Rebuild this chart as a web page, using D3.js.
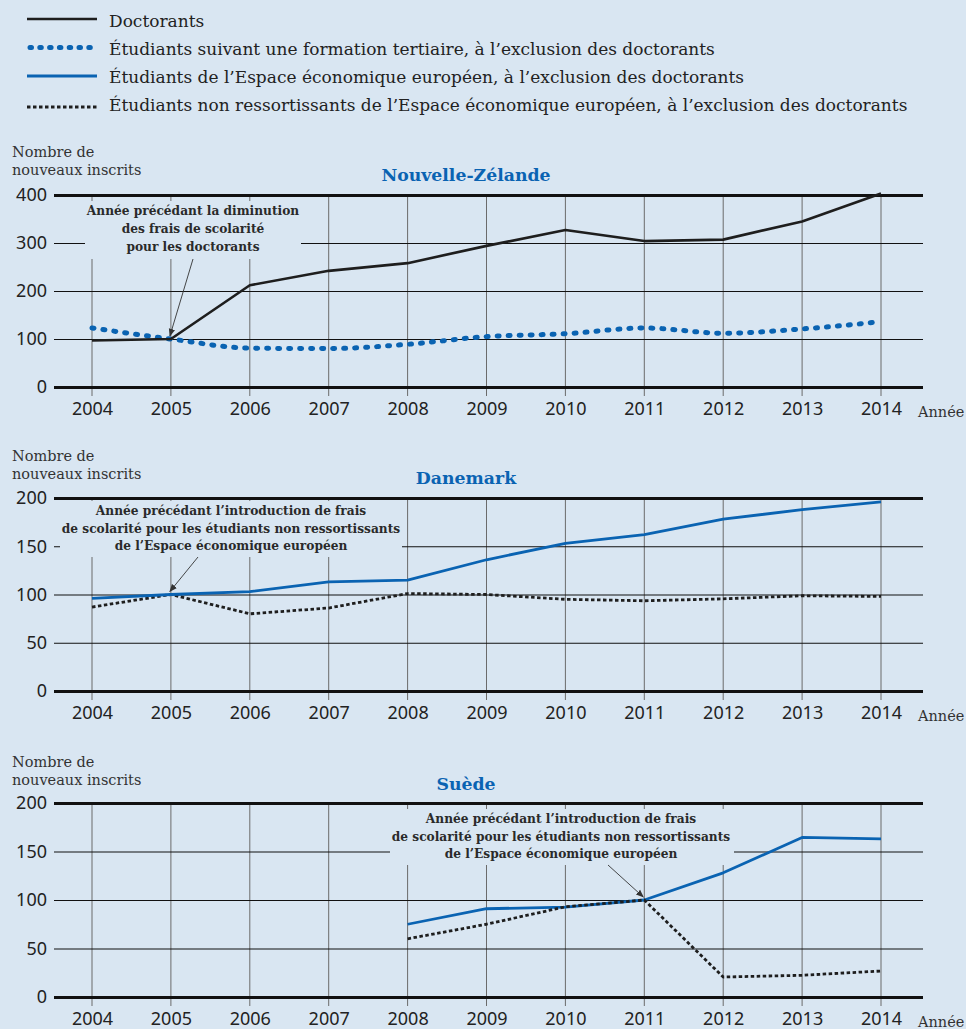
<!DOCTYPE html>
<html lang="fr">
<head>
<meta charset="utf-8">
<script src="https://cdn.jsdelivr.net/npm/d3@7"></script>
<style>
  html, body { margin: 0; padding: 0; background: #d9e6f2; }
  svg { display: block; }
  .serif { font-family: "DejaVu Serif", "Liberation Serif", serif; }
  .bserif { font-family: "DejaVu Serif", "Liberation Serif", serif; font-weight: bold; }
  .sans { font-family: "Noto Sans", "Open Sans", sans-serif; }
</style>
</head>
<body>
<svg id="chart" width="966" height="1029"></svg>
<script>
// Years on the horizontal axis
const years = [2004, 2005, 2006, 2007, 2008, 2009, 2010, 2011, 2012, 2013, 2014];

// Nouvelle-Zélande
const nzDoctorants = [97, 100, 212, 242, 258, 294, 327, 304, 307, 345, 403];
const nzTertiaire  = [123, 100, 81, 80, 89, 105, 111, 123, 112, 121, 136];

// Danemark
const dkEEE    = [96, 100, 103, 113, 115, 136, 153, 162, 178, 188, 196];
const dkNonEEE = [87, 100, 80, 86, 101, 100, 95, 93.5, 95.5, 98.7, 98];

// Suède (données à partir de 2008)
const seEEE    = [null, null, null, null, 75, 91, 92.6, 100, 128, 164.5, 163];
const seNonEEE = [null, null, null, null, 60, 75, 93, 100, 20.6, 22.4, 26.8];

// Axis ticks
const nzTicks = [0, 100, 200, 300, 400];
const dkTicks = [0, 50, 100, 150, 200];
const seTicks = [0, 50, 100, 150, 200];

// Legend entries
const legendLabels = [
  "Doctorants",
  "Étudiants suivant une formation tertiaire, à l’exclusion des doctorants",
  "Étudiants de l’Espace économique européen, à l’exclusion des doctorants",
  "Étudiants non ressortissants de l’Espace économique européen, à l’exclusion des doctorants"
];

const annoteBaisse = ["Année précédant la diminution", "des frais de scolarité", "pour les doctorants"];
const annoteFrais  = ["Année précédant l’introduction de frais",
                      "de scolarité pour les étudiants non ressortissants",
                      "de l’Espace économique européen"];

const BG = "#d9e6f2";
const BLUE = "#0a63b2";
const INK = "#222";

// Line styles per series kind
const styles = {
  doct:    { stroke: "#1e1e1e", width: 2.6, dash: null, cap: "butt", curve: d3.curveLinear },
  tert:    { stroke: BLUE, width: 5, dash: "2 9", cap: "round", curve: d3.curveMonotoneX },
  eee:     { stroke: BLUE, width: 2.8, dash: null, cap: "butt", curve: d3.curveLinear },
  noneee:  { stroke: "#1e1e1e", width: 2.8, dash: "3.5 2.5", cap: "butt", curve: d3.curveLinear }
};

const svg = d3.select("#chart");

svg.append("defs").append("marker")
  .attr("id", "arrow")
  .attr("viewBox", "0 0 10 10")
  .attr("refX", 9).attr("refY", 5)
  .attr("markerWidth", 8).attr("markerHeight", 8)
  .attr("markerUnits", "userSpaceOnUse")
  .attr("orient", "auto")
  .append("path").attr("d", "M0,1 L10,5 L0,9 Z").attr("fill", "#333");

// ---- Legend ----
const legendKinds = ["doct", "tert", "eee", "noneee"];
const legendLineY = [19, 47.5, 76, 107];
const legendTextY = [27, 55, 83, 111];
legendKinds.forEach((k, i) => {
  const s = styles[k];
  svg.append("line")
    .attr("x1", k === "tert" ? 30 : 27).attr("x2", k === "tert" ? 96 : 97)
    .attr("y1", legendLineY[i]).attr("y2", legendLineY[i])
    .attr("stroke", s.stroke).attr("stroke-width", k === "tert" ? 5 : s.width)
    .attr("stroke-dasharray", k === "tert" ? "1.5 8.3" : s.dash)
    .attr("stroke-linecap", s.cap);
  svg.append("text").attr("class", "serif")
    .attr("x", 109).attr("y", legendTextY[i])
    .attr("font-size", 17).attr("fill", INK)
    .text(legendLabels[i]);
});

// ---- Panels ----
const x = d3.scaleLinear().domain([2004, 2014]).range([92, 881]);
const gridX0 = 54, gridX1 = 923;

const panels = [
  {
    title: "Nouvelle-Zélande", titleY: 181, unitY: [157, 175],
    max: 400, top: 195, bottom: 387, ticks: nzTicks,
    series: [["tert", nzTertiaire], ["doct", nzDoctorants]],
    note: { lines: annoteBaisse, box: [85, 201, 301, 259], cx: 193, y0: 215, step: 18,
            arrow: [193, 259], target: 2005, targetValue: nzDoctorants[1] }
  },
  {
    title: "Danemark", titleY: 484, unitY: [461, 479],
    max: 200, top: 498, bottom: 691, ticks: dkTicks,
    series: [["noneee", dkNonEEE], ["eee", dkEEE]],
    note: { lines: annoteFrais, box: [60, 501, 402, 557], cx: 231, y0: 515, step: 17.5,
            arrow: [198, 557], target: 2005, targetValue: dkEEE[1] }
  },
  {
    title: "Suède", titleY: 790, unitY: [767, 785],
    max: 200, top: 803, bottom: 997, ticks: seTicks,
    series: [["eee", seEEE], ["noneee", seNonEEE]],
    note: { lines: annoteFrais, box: [390, 809, 734, 865], cx: 561, y0: 823, step: 17.5,
            arrow: [608, 865], target: 2011, targetValue: seEEE[7] }
  }
];

panels.forEach(p => {
  const g = svg.append("g");
  const y = d3.scaleLinear().domain([0, p.max]).range([p.bottom, p.top]);

  // Unit label
  g.append("text").attr("class", "serif").attr("x", 12).attr("y", p.unitY[0])
    .attr("font-size", 14.5).attr("fill", "#333").text("Nombre de");
  g.append("text").attr("class", "serif").attr("x", 12).attr("y", p.unitY[1])
    .attr("font-size", 14.5).attr("fill", "#333").text("nouveaux inscrits");

  // Title
  g.append("text").attr("class", "bserif").attr("x", 466).attr("y", p.titleY)
    .attr("text-anchor", "middle").attr("font-size", 17.3)
    .attr("fill", BLUE).text(p.title);

  // Vertical year lines
  g.selectAll("line.vgrid").data(years).join("line")
    .attr("class", "vgrid")
    .attr("x1", d => x(d)).attr("x2", d => x(d))
    .attr("y1", p.top).attr("y2", p.bottom + 9)
    .attr("stroke", "#6b6b6b").attr("stroke-width", 1);

  // Horizontal grid + value labels
  const yAxis = d3.axisLeft(y).tickValues(p.ticks).tickSize(-(gridX1 - gridX0)).tickPadding(7);
  const ya = g.append("g").attr("transform", `translate(${gridX0},0)`).call(yAxis);
  ya.select(".domain").remove();
  ya.selectAll(".tick line")
    .attr("stroke", "#111")
    .attr("stroke-width", d => (d === 0 || d === p.max) ? 3 : 1.2);
  ya.selectAll(".tick text")
    .attr("class", "sans").attr("font-size", 18).attr("fill", INK).attr("font-family", null);

  // Year labels
  const xAxis = d3.axisBottom(x).tickValues(years).tickFormat(d3.format("d")).tickSize(0).tickPadding(15);
  const xa = g.append("g").attr("transform", `translate(0,${p.bottom})`).call(xAxis);
  xa.select(".domain").remove();
  xa.selectAll(".tick text")
    .attr("class", "sans").attr("font-size", 18).attr("fill", INK).attr("font-family", null);

  g.append("text").attr("class", "serif").attr("x", 918).attr("y", p.bottom + 30)
    .attr("font-size", 14.5).attr("fill", "#333").text("Année");

  // Annotation: background box hiding the grid, text, arrow
  const n = p.note;
  g.append("rect")
    .attr("x", n.box[0]).attr("y", n.box[1])
    .attr("width", n.box[2] - n.box[0]).attr("height", n.box[3] - n.box[1])
    .attr("fill", BG);
  n.lines.forEach((t, i) => {
    g.append("text").attr("class", "bserif")
      .attr("x", n.cx).attr("y", n.y0 + i * n.step)
      .attr("text-anchor", "middle").attr("font-size", 12.2)
      .attr("fill", "#2a2a2a").text(t);
  });
  g.append("line")
    .attr("x1", n.arrow[0]).attr("y1", n.arrow[1])
    .attr("x2", x(n.target) - 1).attr("y2", y(n.targetValue) - 3)
    .attr("stroke", "#333").attr("stroke-width", 0.9)
    .attr("marker-end", "url(#arrow)");

  // Data lines
  p.series.forEach(([kind, values]) => {
    const s = styles[kind];
    const line = d3.line()
      .defined(d => d != null)
      .x((d, i) => x(years[i]))
      .y(d => y(d))
      .curve(s.curve);
    g.append("path")
      .attr("d", line(values))
      .attr("fill", "none")
      .attr("stroke", s.stroke)
      .attr("stroke-width", s.width)
      .attr("stroke-dasharray", s.dash)
      .attr("stroke-linecap", s.cap)
      .attr("stroke-linejoin", "round");
  });
});
</script>
</body>
</html>
